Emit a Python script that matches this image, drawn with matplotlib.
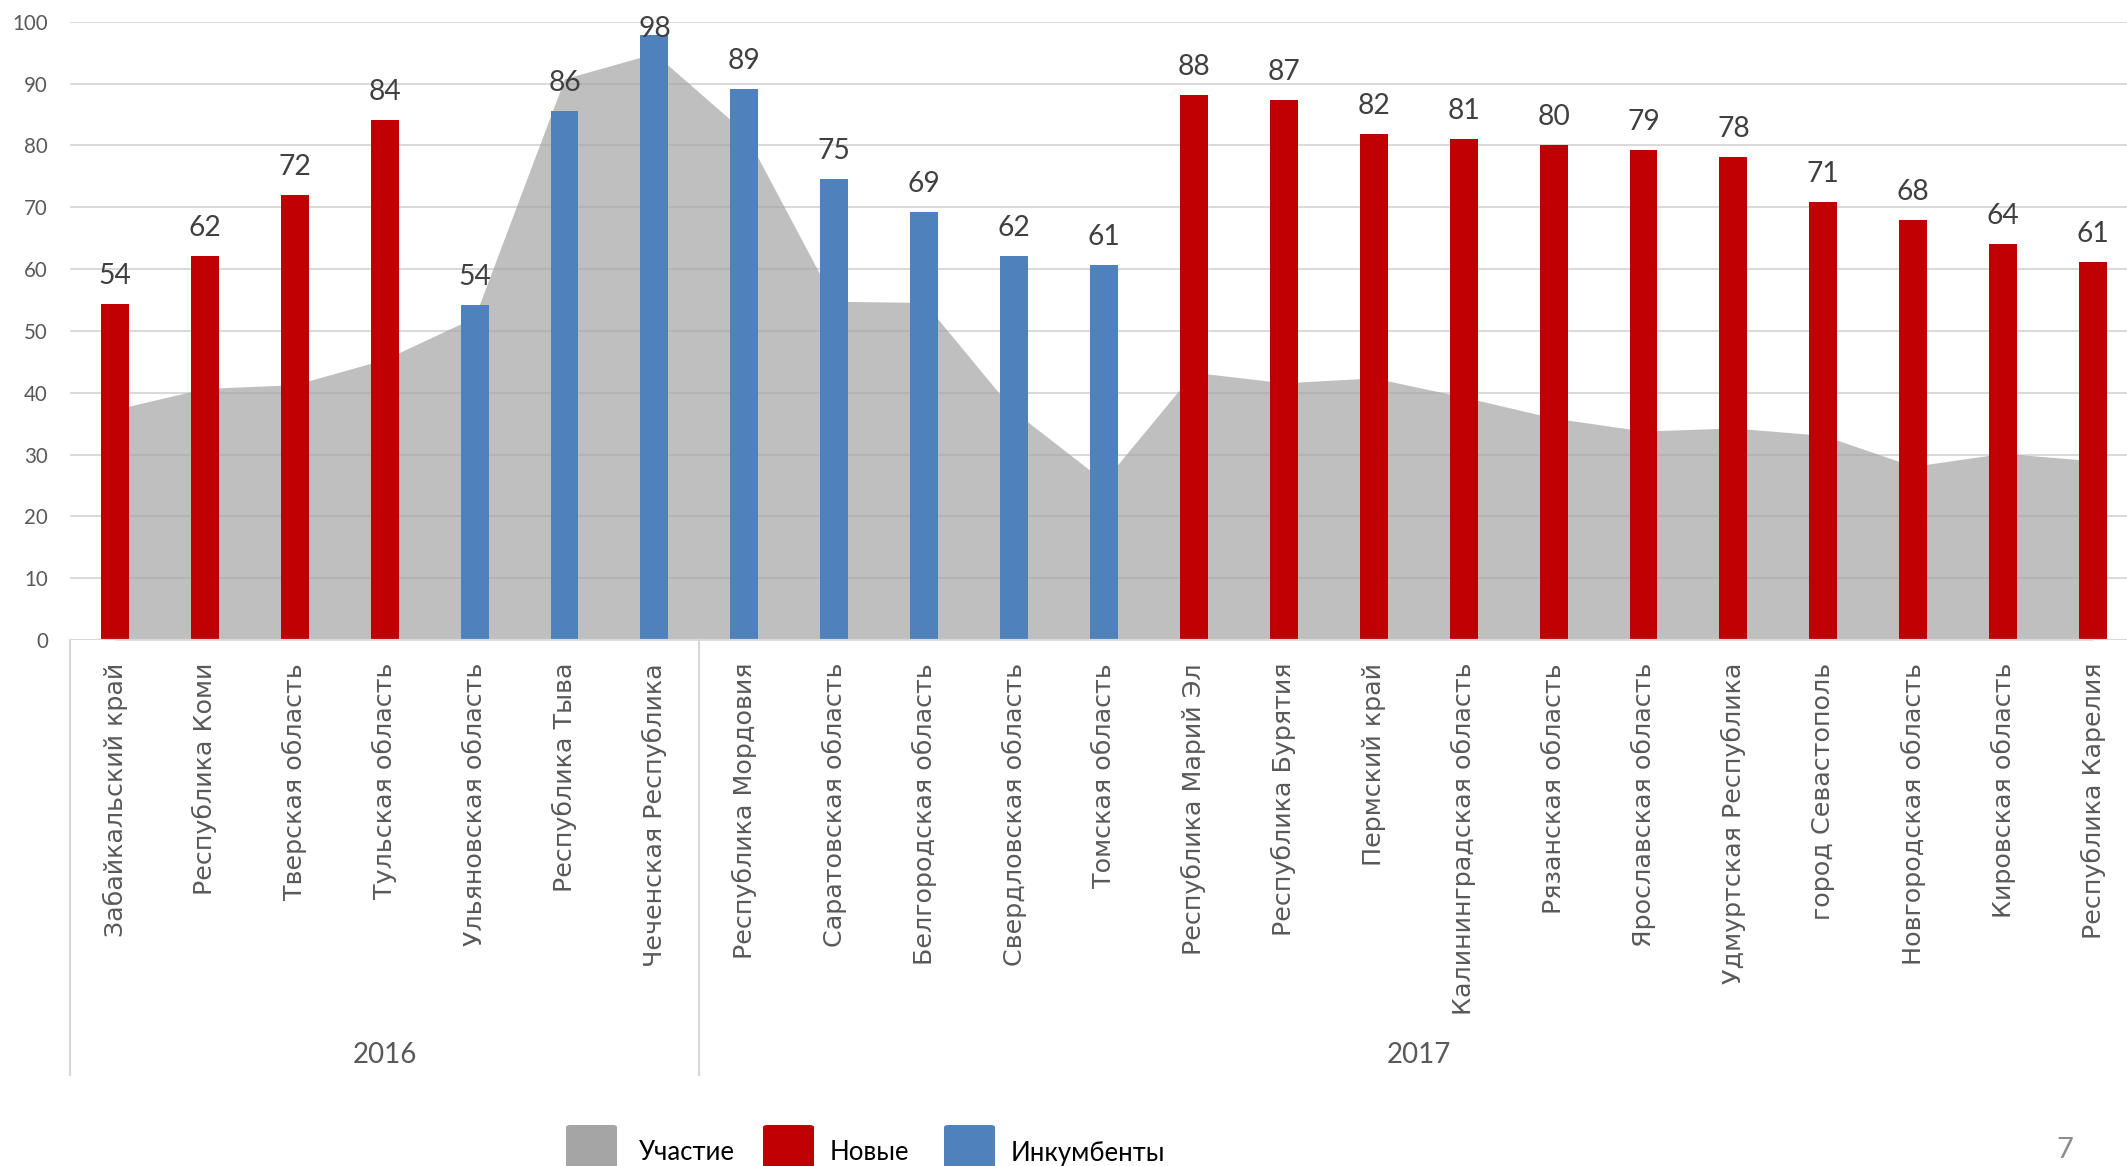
import matplotlib
matplotlib.use("Agg")
import matplotlib.pyplot as plt
import numpy as np
from matplotlib import font_manager
from matplotlib.patches import FancyBboxPatch
from matplotlib.transforms import blended_transform_factory, offset_copy

# ---------------- data ----------------
regions = ["Забайкальский край", "Республика Коми", "Тверская область", "Тульская область",
           "Ульяновская область", "Республика Тыва", "Чеченская Республика",
           "Республика Мордовия", "Саратовская область", "Белгородская область",
           "Свердловская область", "Томская область", "Республика Марий Эл",
           "Республика Бурятия", "Пермский край", "Калининградская область",
           "Рязанская область", "Ярославская область", "Удмуртская Республика",
           "город Севастополь", "Новгородская область", "Кировская область",
           "Республика Карелия"]
years = ["2016", "2017"]
year_sizes = [7, 16]
bar_values = [54.4, 62.1, 72.0, 84.1, 54.2, 85.6, 97.8,
              89.2, 74.6, 69.2, 62.1, 60.6, 88.1, 87.3, 81.9, 81.0,
              80.1, 79.3, 78.1, 70.9, 67.9, 64.0, 61.2]
bar_type = ["new", "new", "new", "new", "inc", "inc", "inc",
            "inc", "inc", "inc", "inc", "inc", "new", "new", "new", "new",
            "new", "new", "new", "new", "new", "new", "new"]
participation = [37.3, 40.7, 41.3, 45.4, 52.2, 90.8, 94.9,
                 82.2, 54.8, 54.6, 37.0, 25.7, 43.3, 41.6, 42.4, 39.3,
                 35.9, 33.8, 34.3, 33.1, 28.1, 30.2, 29.0]
series_names = ["Участие", "Новые", "Инкумбенты"]
yticks = [0, 10, 20, 30, 40, 50, 60, 70, 80, 90, 100]
page_number = "7"

# ---------------- style ----------------
C_AREA = "#A5A5A5"
C_NEW = "#C00000"
C_INC = "#4F81BD"
C_GRID = "#D9D9D9"
C_TEXT = "#595959"
C_LABEL = "#404040"

avail = {f.name for f in font_manager.fontManager.ttflist}
num_font = ["Lato", "Open Sans", "DejaVu Sans"] if "Lato" in avail else ["Open Sans", "DejaVu Sans"]
txt_font = num_font
cat_font = ["DejaVu Sans"]

W, H = 2127, 1166
fig = plt.figure(figsize=(W / 100, H / 100), dpi=100)
left_px, right_px, top_px, zero_px = 70, 2138, 21.8, 640
ax = fig.add_axes([left_px / W, 1 - zero_px / H, (right_px - left_px) / W, (zero_px - top_px) / H])
px_per_unit = (zero_px - top_px) / 100.0

x = np.arange(len(regions))
ax.set_xlim(-0.5, len(regions) - 0.5)
ax.set_ylim(0, 100)

# gridlines
ax.set_axisbelow(True)
ax.set_yticks(yticks)
ax.yaxis.grid(True, color=C_GRID, linewidth=1.4)
ax.xaxis.grid(False)
for s in ax.spines.values():
    s.set_visible(False)

# area
ax.fill_between(x, 0, participation, color=C_AREA, alpha=0.7, linewidth=0, zorder=1)

# bars
colors = [C_NEW if t == "new" else C_INC for t in bar_type]
ax.bar(x, bar_values, width=0.31, color=colors, zorder=2, linewidth=0)

# data labels (kept inside the chart area like Excel does)
gap_units = 20 / px_per_unit
max_baseline = 100 + (top_px - 36.8) / px_per_unit
for xi, v in zip(x, bar_values):
    yb = min(v + gap_units, max_baseline)
    ax.text(xi, yb, f"{int(round(v))}", ha="center", va="baseline", fontsize=20.3,
            color=C_LABEL, family=num_font, zorder=3, clip_on=False)

# y tick labels
ax.tick_params(axis="y", length=0, pad=16, labelsize=14.8, labelcolor=C_TEXT)
for lab in ax.get_yticklabels():
    lab.set_family(num_font)

# x tick labels (categories)
ax.set_xticks(x)
ax.set_xticklabels(regions, rotation=90, fontsize=18.3, color=C_TEXT, family=cat_font)
ax.tick_params(axis="x", length=0, pad=16.5)

# axis line at zero
ax.axhline(0, color=C_GRID, linewidth=1.6, zorder=2.5)

# group separators and year labels
tr = blended_transform_factory(ax.transData, ax.transAxes)
drop = -(1074.6 - zero_px) / (zero_px - top_px)
ypos = -(1055 - zero_px) / (zero_px - top_px)
start = 0
bounds = [-0.5]
for yr, n in zip(years, year_sizes):
    center = start + (n - 1) / 2
    ax.text(center, ypos, yr, transform=tr, ha="center", va="center",
            fontsize=20, color=C_TEXT, family=num_font)
    start += n
    bounds.append(start - 0.5)
for b in bounds:
    ax.plot([b, b], [0, drop], transform=tr, color=C_GRID, linewidth=1.6, clip_on=False)

# legend (manual, partly cut at bottom as in the original)
leg_colors = [C_AREA, C_NEW, C_INC]
sq_x = [566, 763, 944]
tx_x = [639, 830, 1011]
for name, col, sx, tx in zip(series_names, leg_colors, sq_x, tx_x):
    p = FancyBboxPatch((sx / W, 1 - 1176 / H), 51 / W, 51 / H,
                       boxstyle="round,pad=0,rounding_size=0.002",
                       transform=fig.transFigure, facecolor=col, edgecolor="none")
    fig.patches.append(p)
    fig.text(tx / W, 1 - 1153 / H, name, ha="left", va="center", fontsize=18.5,
             color="black", family=txt_font)

fig.text(2065 / W, 1 - 1150 / H, page_number, ha="center", va="center",
         fontsize=21, color="#8C8C8C", family=num_font)

fig.savefig("out.png", dpi=100, facecolor="white")
